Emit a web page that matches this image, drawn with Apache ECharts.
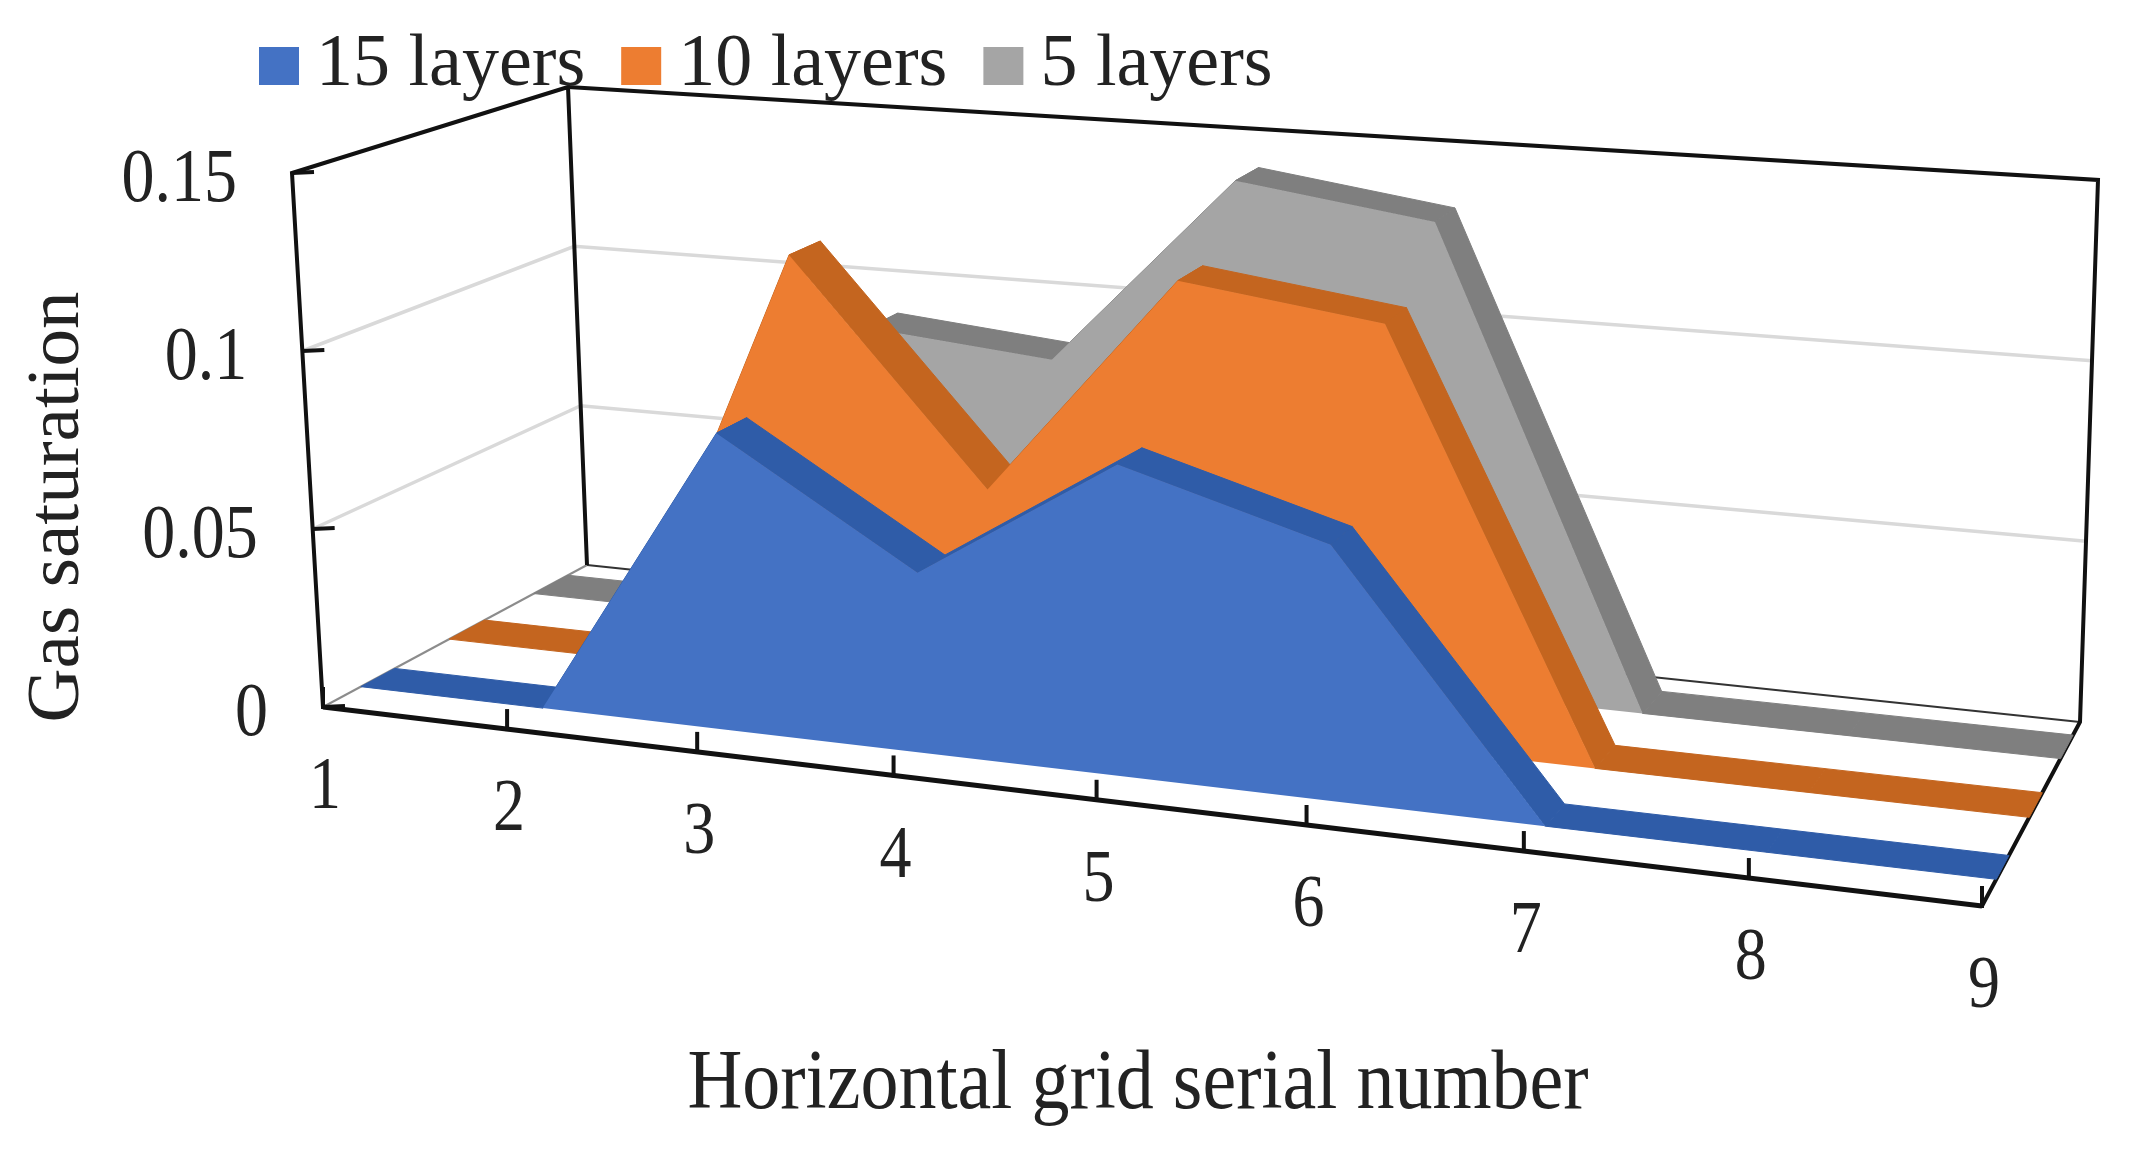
<!DOCTYPE html>
<html>
<head>
<meta charset="utf-8">
<script src="https://cdn.jsdelivr.net/npm/echarts@6/dist/echarts.min.js"></script>
<style>
html, body { margin: 0; padding: 0; background: #fff; }
#chart { width: 2136px; height: 1150px; }
</style>
</head>
<body>
<div id="chart"></div>
<script>
const categories = ["1", "2", "3", "4", "5", "6", "7", "8", "9"];
const yTicks = [0, 0.05, 0.1, 0.15];
const layers15 = [0, 0, 0.082, 0.049, 0.0835, 0.0675, 0, 0, 0];
const layers10 = [0, 0, 0.1215, 0.0595, 0.1225, 0.115, 0, 0, 0];
const layers5 = [0, 0, 0.09, 0.085, 0.141, 0.133, 0, 0, 0];

const FONT = '"Liberation Serif", serif';
const TEXT_COLOR = "#222";

// corners of the fake 3d box, [x, y] on screen
const floorQuad = [[323, 707], [1982, 906], [2080, 722], [587, 565]];
const topQuad = [[292, 173], [2043, 301], [2098, 180], [568, 87]];

// unit square -> quad homography
function homography(q) {
  const [p0, p1, p2, p3] = q;
  const dx1 = p1[0] - p2[0], dx2 = p3[0] - p2[0], sx = p0[0] - p1[0] + p2[0] - p3[0];
  const dy1 = p1[1] - p2[1], dy2 = p3[1] - p2[1], sy = p0[1] - p1[1] + p2[1] - p3[1];
  const den = dx1 * dy2 - dx2 * dy1;
  const g = (sx * dy2 - dx2 * sy) / den;
  const h = (dx1 * sy - sx * dy1) / den;
  const a = p1[0] - p0[0] + g * p1[0], b = p3[0] - p0[0] + h * p3[0], c = p0[0];
  const d = p1[1] - p0[1] + g * p1[1], e = p3[1] - p0[1] + h * p3[1], f = p0[1];
  return (u, w) => {
    const k = g * u + h * w + 1;
    return [(a * u + b * w + c) / k, (d * u + e * w + f) / k];
  };
}
const floorAt = homography(floorQuad);
const topAt = homography(topQuad);

// u along x axis, v up the value axis, w into the depth, all 0..1
function project(u, v, w) {
  const a = floorAt(u, w), b = topAt(u, w);
  return [a[0] + (b[0] - a[0]) * v, a[1] + (b[1] - a[1]) * v];
}

// take the hidden cartesian position and put it in the box
function place(api, params, cat, val, w) {
  const p = api.coord([cat, val]);
  const cs = params.coordSys;
  return project((p[0] - cs.x) / cs.width, (cs.y + cs.height - p[1]) / cs.height, w);
}

function line(points, color, width) {
  return {
    type: "polyline",
    shape: { points: points },
    style: { stroke: color, lineWidth: width, fill: null }
  };
}

function label(text, x, y, size, align) {
  return {
    type: "text",
    x: x,
    y: y,
    scaleY: 1.15,
    style: { text: text, fill: TEXT_COLOR, font: size + "px " + FONT, align: align, verticalAlign: "middle" }
  };
}

function renderFrame(params, api) {
  const last = categories[categories.length - 1];
  const first = categories[0];
  const children = [];
  yTicks.slice(1, 3).forEach(t => {
    children.push(line([place(api, params, first, t, 0), place(api, params, first, t, 1), place(api, params, last, t, 1)], "#d9d9d9", 3.5));
  });
  children.push(line([place(api, params, first, 0, 0), place(api, params, first, 0, 1)], "#8c8c8c", 2));
  children.push(line([place(api, params, first, 0, 1), place(api, params, last, 0, 1)], "#333", 2));
  children.push(line([place(api, params, first, 0, 0), place(api, params, first, 0.15, 0), place(api, params, first, 0.15, 1), place(api, params, first, 0, 1)], "#111", 4));
  children.push(line([place(api, params, first, 0.15, 1), place(api, params, last, 0.15, 1), place(api, params, last, 0, 1), place(api, params, last, 0, 0)], "#111", 4));
  children.push(line([place(api, params, last, 0, 0), place(api, params, first, 0, 0)], "#111", 5));

  categories.forEach(c => {
    const p = place(api, params, c, 0, 0);
    children.push(line([[p[0], p[1] - 20], [p[0], p[1] + 2]], "#111", 4));
    children.push(label(c, p[0] + 2, p[1] + 82, 64, "center"));
  });
  yTicks.forEach(t => {
    const p = place(api, params, first, t, 0);
    children.push(line([p, [p[0] + 22, p[1] - 1]], "#111", 4));
    children.push(label(String(t), p[0] - 55, p[1] + 8, 66, "right"));
  });
  return { type: "group", children: children };
}

function layerRenderer(values, front, back, faceColor, topColor) {
  return function (params, api) {
    if (params.dataIndex !== 0) return null;
    const children = [];
    for (let i = 0; i < values.length - 1; i++) {
      children.push({
        type: "polygon",
        shape: {
          points: [
            place(api, params, categories[i], values[i], front),
            place(api, params, categories[i + 1], values[i + 1], front),
            place(api, params, categories[i + 1], values[i + 1], back),
            place(api, params, categories[i], values[i], back)
          ]
        },
        style: { fill: topColor, stroke: topColor, lineWidth: 1 }
      });
    }
    const face = values.map((v, i) => place(api, params, categories[i], v, front));
    for (let i = values.length - 1; i >= 0; i--) {
      face.push(place(api, params, categories[i], 0, front));
    }
    children.push({ type: "polygon", shape: { points: face }, style: { fill: faceColor } });
    return { type: "group", children: children };
  };
}

function layerSeries(name, values, front, back, faceColor, topColor, z) {
  return {
    name: name,
    type: "custom",
    z: z,
    silent: true,
    itemStyle: { color: faceColor },
    encode: { x: 0, y: 1 },
    data: values.map((v, i) => [categories[i], v]),
    renderItem: layerRenderer(values, front, back, faceColor, topColor)
  };
}

const chart = echarts.init(document.getElementById("chart"));
chart.setOption({
  animation: false,
  backgroundColor: "#fff",
  grid: { left: 0, right: 0, top: 0, bottom: 0 },
  xAxis: { type: "category", data: categories, boundaryGap: false, show: false },
  yAxis: { type: "value", min: 0, max: 0.15, interval: 0.05, show: false, splitLine: { show: false } },
  legend: {
    left: 254,
    top: 24,
    icon: "rect",
    itemWidth: 40,
    itemHeight: 38,
    itemGap: 36,
    selectedMode: false,
    data: ["15 layers", "10 layers", "5 layers"],
    textStyle: { fontFamily: FONT, fontSize: 74, color: TEXT_COLOR, padding: [0, 0, 0, 12] }
  },
  graphic: [
    { type: "text", x: 1138, y: 1086, scaleY: 1.1, style: { text: "Horizontal grid serial number", font: "76px " + FONT, fill: TEXT_COLOR, align: "center", verticalAlign: "middle" } },
    { type: "text", x: 58, y: 507, rotation: Math.PI / 2, style: { text: "Gas saturation", font: "75px " + FONT, fill: TEXT_COLOR, align: "center", verticalAlign: "middle" } }
  ],
  series: [
    {
      name: "frame",
      type: "custom",
      z: 1,
      silent: true,
      data: [[categories[0], 0]],
      encode: { x: 0, y: 1 },
      renderItem: renderFrame
    },
    layerSeries("5 layers", layers5, 0.78, 0.92, "#a5a5a5", "#7f7f7f", 2),
    layerSeries("10 layers", layers10, 0.45, 0.585, "#ed7d31", "#c4651f", 3),
    layerSeries("15 layers", layers15, 0.13, 0.25, "#4472c4", "#2f5ca8", 4)
  ]
});
</script>
</body>
</html>
